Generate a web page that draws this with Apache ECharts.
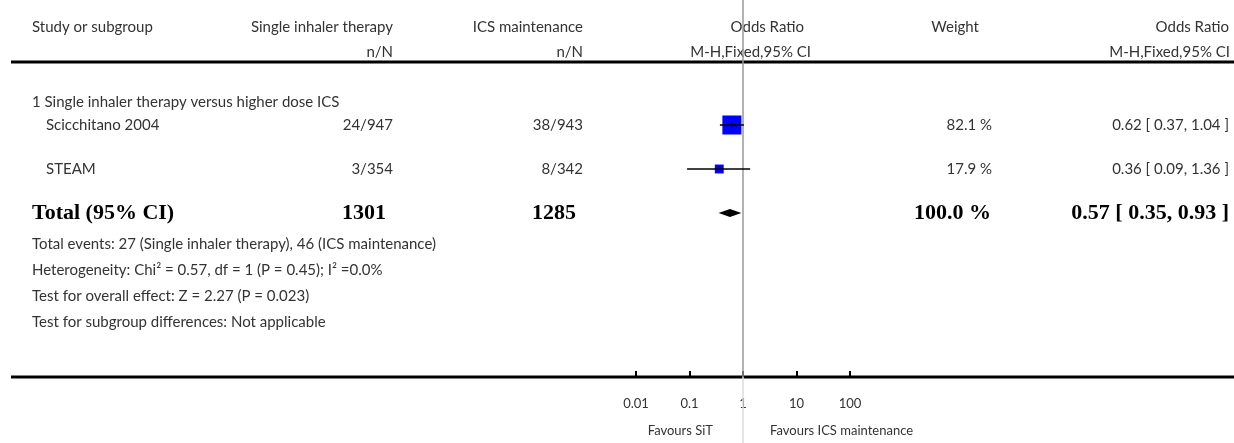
<!DOCTYPE html>
<html>
<head>
<meta charset="utf-8">
<script src="https://cdn.jsdelivr.net/npm/echarts@6/dist/echarts.min.js"></script>
<style>
html,body{margin:0;padding:0;background:#fff}
#main{width:1234px;height:443px}
</style>
</head>
<body>
<div id="main"></div>
<script>
// ---- data ----
const subgroupTitle = '1 Single inhaler therapy versus higher dose ICS';
const studies = ['Scicchitano 2004', 'STEAM'];
const sitEvents = ['24/947', '3/354'];
const icsEvents = ['38/943', '8/342'];
const orValue = [0.62, 0.36];
const ciLow = [0.37, 0.09];
const ciHigh = [1.04, 1.36];
const weights = [82.1, 17.9];

const totalN = [1301, 1285];
const totalOR = 0.57;
const totalCI = [0.35, 0.93];
const totalWeight = 100.0;

const axisTicks = [0.01, 0.1, 1, 10, 100];
const footnotes = [
    'Total events: 27 (Single inhaler therapy), 46 (ICS maintenance)',
    'Heterogeneity: Chi² = 0.57, df = 1 (P = 0.45); I² =0.0%',
    'Test for overall effect: Z = 2.27 (P = 0.023)',
    'Test for subgroup differences: Not applicable'
];

// ---- layout (pixel rows, axis at 377) ----
const axisY = 377;
const rowY = {head1: 27, head2: 52, sub: 102, studies: [125, 169], total: 213, notes: [244, 270, 296, 322]};
const yv = px => px - axisY;   // y value for a pixel row

const FONT = 'Lato, "Open Sans", sans-serif';
const GREY = '#333';
const txt = (x, y, text, align, extra) => Object.assign({
    type: 'text', x: x, y: y,
    style: Object.assign({text: text, fill: GREY, font: '15px ' + FONT, textAlign: align || 'left', textVerticalAlign: 'middle'}, extra || {})
});
const bold = (x, y, text, align) => txt(x, y, text, align, {fill: '#000', font: 'bold 22px "Liberation Serif", "DejaVu Serif", serif'});

let chart = echarts.init(document.getElementById('main'));

let studyData = studies.map((s, i) => [orValue[i], yv(rowY.studies[i]), ciLow[i], ciHigh[i], weights[i], i]);

let option = {
    animation: false,
    backgroundColor: '#fff',
    grid: {left: 636, width: 214, top: 0, height: axisY, outerBoundsMode: 'none', containLabel: false},
    xAxis: {
        type: 'log', logBase: 10, min: 0.01, max: 100,
        axisLine: {show: false},
        axisTick: {show: true, inside: true, length: 6, lineStyle: {color: '#000', width: 2}},
        axisLabel: {margin: 20, color: GREY, fontSize: 13, fontFamily: FONT, formatter: v => String(v)},
        splitLine: {show: false}
    },
    yAxis: {type: 'value', inverse: true, min: -axisY, max: 0, show: false},
    series: [
        {   // line of no effect
            type: 'custom',
            data: [[1, 0]],
            renderItem: function (params, api) {
                const p = api.coord([api.value(0), 0]);
                const top = api.coord([api.value(0), -axisY]);
                return {type: 'group', children: [
                    {type: 'line', shape: {x1: p[0], y1: top[1], x2: p[0], y2: p[1]}, style: {stroke: '#999', lineWidth: 1.5}},
                    {type: 'line', shape: {x1: p[0], y1: p[1], x2: p[0], y2: api.getHeight()}, style: {stroke: '#ddd', lineWidth: 1.5}}
                ]};
            },
            z: 1
        },
        {   // study squares + CIs
            type: 'custom',
            data: studyData,
            renderItem: function (params, api) {
                const y = api.value(1);
                const c = api.coord([api.value(0), y]);
                const l = api.coord([api.value(2), y]);
                const h = api.coord([api.value(3), y]);
                const side = 2.1 * Math.sqrt(api.value(4));
                return {type: 'group', children: [
                    {type: 'rect', shape: {x: c[0] - side / 2, y: c[1] - side / 2, width: side, height: side}, style: {fill: '#0000ff'}},
                    {type: 'line', shape: {x1: l[0], y1: c[1], x2: h[0], y2: c[1]}, style: {stroke: '#000', lineWidth: 1.5}},
                    {type: 'line', shape: {x1: c[0], y1: c[1] - 3, x2: c[0], y2: c[1] + 3}, style: {stroke: '#000', lineWidth: 1}}
                ]};
            },
            z: 3
        },
        {   // study text columns
            type: 'custom',
            data: studyData,
            renderItem: function (params, api) {
                const i = api.value(5);
                const y = api.coord([1, api.value(1)])[1];
                return {type: 'group', children: [
                    txt(46, y, studies[i]),
                    txt(393, y, sitEvents[i], 'right'),
                    txt(583, y, icsEvents[i], 'right'),
                    txt(992, y, weights[i].toFixed(1) + ' %', 'right'),
                    txt(1229, y, orValue[i].toFixed(2) + ' [ ' + ciLow[i].toFixed(2) + ', ' + ciHigh[i].toFixed(2) + ' ]', 'right')
                ]};
            },
            z: 3
        },
        {   // total diamond
            type: 'custom',
            data: [[totalOR, yv(rowY.total), totalCI[0], totalCI[1]]],
            renderItem: function (params, api) {
                const y = api.value(1);
                const c = api.coord([api.value(0), y]);
                const l = api.coord([api.value(2), y]);
                const h = api.coord([api.value(3), y]);
                return {type: 'polygon', shape: {points: [[l[0], c[1]], [c[0], c[1] - 4], [h[0], c[1]], [c[0], c[1] + 4]]}, style: {fill: '#000'}};
            },
            z: 3
        },
        {   // total row text
            type: 'custom',
            data: [[totalOR, yv(rowY.total)]],
            renderItem: function (params, api) {
                const y = api.coord([1, api.value(1)])[1];
                return {type: 'group', children: [
                    bold(32, y, 'Total (95% CI)'),
                    bold(386, y, String(totalN[0]), 'right'),
                    bold(576, y, String(totalN[1]), 'right'),
                    bold(991, y, totalWeight.toFixed(1) + ' %', 'right'),
                    bold(1229, y, totalOR.toFixed(2) + ' [ ' + totalCI[0].toFixed(2) + ', ' + totalCI[1].toFixed(2) + ' ]', 'right')
                ]};
            },
            z: 3
        }
    ],
    graphic: [
        txt(32, rowY.head1, 'Study or subgroup'),
        txt(393, rowY.head1, 'Single inhaler therapy', 'right'),
        txt(393, rowY.head2, 'n/N', 'right'),
        txt(583, rowY.head1, 'ICS maintenance', 'right'),
        txt(583, rowY.head2, 'n/N', 'right'),
        txt(804, rowY.head1, 'Odds Ratio', 'right'),
        txt(811, rowY.head2, 'M-H,Fixed,95% CI', 'right'),
        txt(979, rowY.head1, 'Weight', 'right'),
        txt(1229, rowY.head1, 'Odds Ratio', 'right'),
        txt(1230, rowY.head2, 'M-H,Fixed,95% CI', 'right'),
        {type: 'line', shape: {x1: 11, y1: 62, x2: 1234, y2: 62}, style: {stroke: '#000', lineWidth: 3}},
        txt(32, rowY.sub, subgroupTitle),
        ...footnotes.map((f, i) => txt(32, rowY.notes[i], f)),
        {type: 'line', shape: {x1: 11, y1: axisY, x2: 1234, y2: axisY}, style: {stroke: '#000', lineWidth: 3}},
        txt(713, 431, 'Favours SiT', 'right', {font: '13px ' + FONT}),
        txt(770, 431, 'Favours ICS maintenance', 'left', {font: '13px ' + FONT})
    ]
};

chart.setOption(option);
</script>
</body>
</html>
